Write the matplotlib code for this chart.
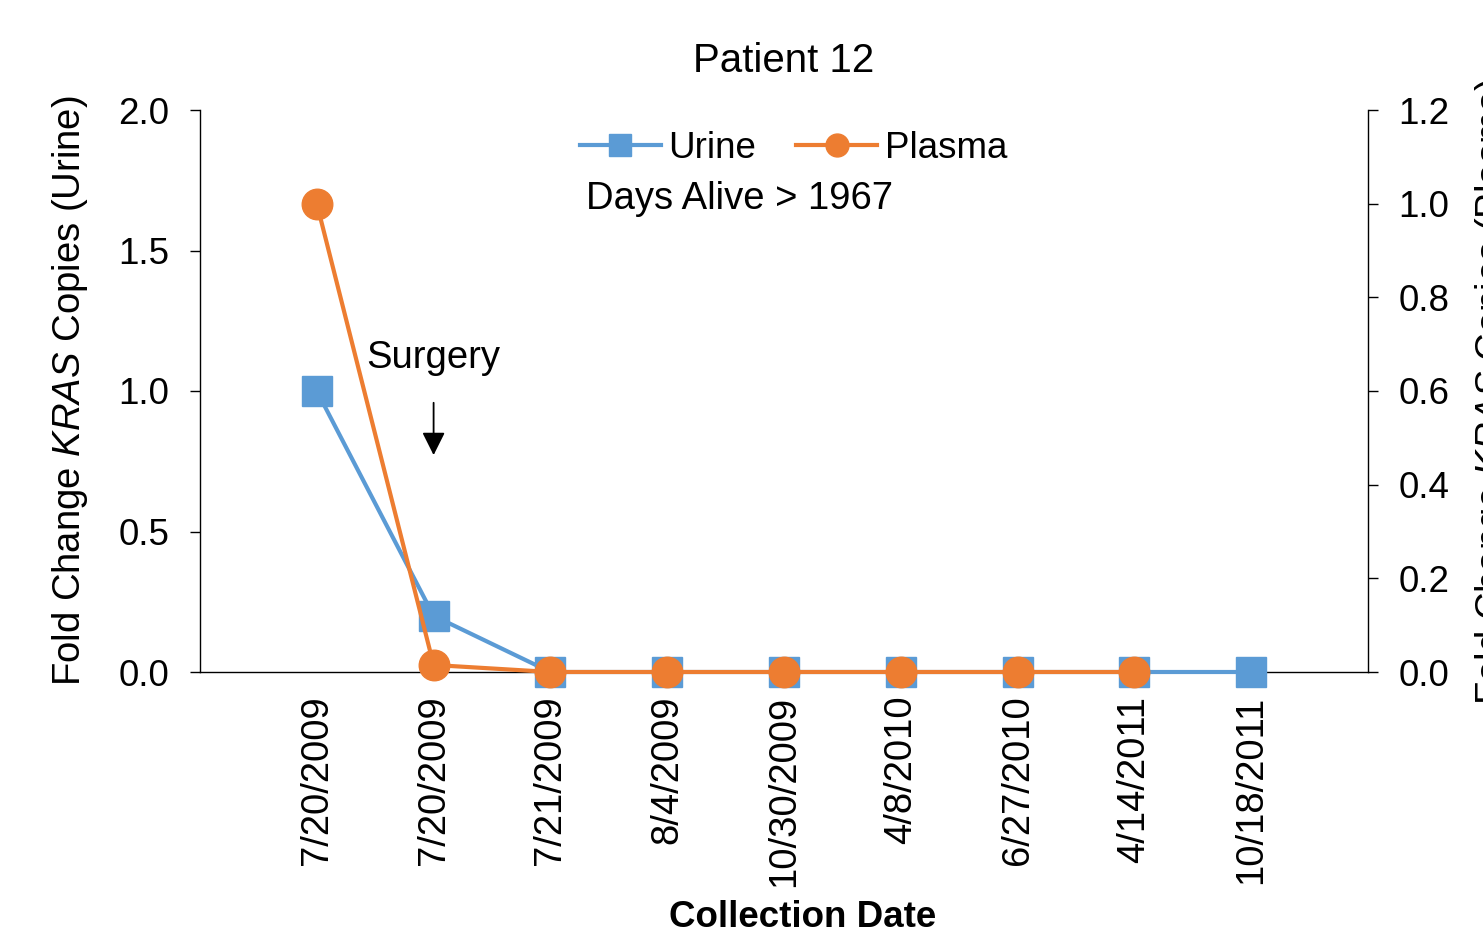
import numpy as np
import matplotlib
matplotlib.use("Agg")
import matplotlib.pyplot as plt

plt.rcParams["font.family"] = ["Liberation Sans", "DejaVu Sans"]
plt.rcParams["mathtext.fontset"] = "custom"
plt.rcParams["mathtext.rm"] = "Liberation Sans"
plt.rcParams["mathtext.it"] = "Liberation Sans:italic"

# data
dates = ["7/20/2009", "7/20/2009", "7/21/2009", "8/4/2009", "10/30/2009",
         "4/8/2010", "6/27/2010", "4/14/2011", "10/18/2011"]
urine = [1.0, 0.2, 0.0, 0.0, 0.0, 0.0, 0.0, 0.0, 0.0]
plasma = [1.0, 0.015, 0.0, 0.0, 0.0, 0.0, 0.0, 0.0, np.nan]
left_ticks = [0.0, 0.5, 1.0, 1.5, 2.0]
right_ticks = [0.0, 0.2, 0.4, 0.6, 0.8, 1.0, 1.2]

BLUE = "#5B9BD5"
ORANGE = "#ED7D31"

fig = plt.figure(figsize=(14.83, 9.34), dpi=100)
ax = fig.add_axes([200/1483, 1-672/934, 1168/1483, 562/934])
ax2 = ax.twinx()

x = np.arange(1, len(dates)+1)
l1, = ax.plot(x, urine, color=BLUE, lw=3, marker="s", ms=22, clip_on=False, zorder=3, label="Urine")
l2, = ax2.plot(x, plasma, color=ORANGE, lw=3, marker="o", ms=22, clip_on=False, zorder=3, label="Plasma")

ax.set_xlim(0, 10)
ax.set_ylim(0, 2.0)
ax2.set_ylim(0, 1.2)
ax.set_xticks(x)
ax.set_xticklabels(dates, rotation=90, fontsize=27.5)
ax.tick_params(axis="x", length=0, pad=17)
ax.set_yticks(left_ticks)
ax.set_yticklabels([f"{v:.1f}" for v in left_ticks], fontsize=26.5)
ax.tick_params(axis="y", direction="out", length=7, width=1, pad=15)
ax2.set_yticks(right_ticks)
ax2.set_yticklabels([f"{v:.1f}" for v in right_ticks], fontsize=26.5)
ax2.tick_params(axis="y", direction="out", length=7, width=1, pad=15)

for s in ("top", "right"):
    ax.spines[s].set_visible(False)
for s in ("top", "left", "bottom"):
    ax2.spines[s].set_visible(False)
for sp in (ax.spines["left"], ax.spines["bottom"], ax2.spines["right"]):
    sp.set_linewidth(1)
    sp.set_color("black")

ax.set_title("Patient 12", fontsize=29, pad=27)
ax.set_xlabel("Collection Date", fontsize=26.5, fontweight="bold")
ax.xaxis.set_label_coords(0.516, -0.405)
ax.set_ylabel("Fold Change $\\mathit{KRAS}$ Copies (Urine)", fontsize=27.5)
ax.yaxis.set_label_coords(-0.094, 0.5)
fig.text(1473/1483, 1-392/934, "Fold Change $\\mathit{KRAS}$ Copies (Plasma)",
         fontsize=27.5, rotation=90, ha="left", va="center")

leg = ax2.legend([l1, l2], ["Urine", "Plasma"], loc="center", bbox_to_anchor=(0.508, 0.931),
                 ncol=2, frameon=False, fontsize=26.5, handlelength=2.2, handletextpad=0.2,
                 columnspacing=1.1, markerscale=0.75)

ax2.text(0.462, 0.842, "Days Alive > 1967", transform=ax.transAxes, fontsize=27.5,
         ha="center", va="center")

ax.annotate("", xy=(2, 0.762), xytext=(2, 0.968),
            arrowprops=dict(arrowstyle="-|>", color="black", lw=1.3, mutation_scale=35))
ax.text(2, 1.117, "Surgery", fontsize=27.5, ha="center", va="center")

fig.savefig("out.png", dpi=100)
